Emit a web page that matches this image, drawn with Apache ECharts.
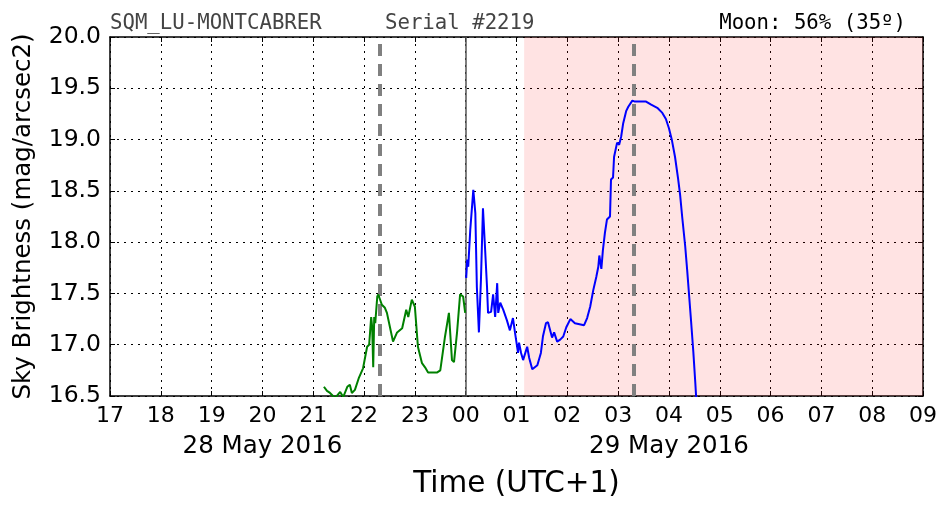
<!DOCTYPE html>
<html>
<head>
<meta charset="utf-8">
<script src="https://cdn.jsdelivr.net/npm/echarts@6/dist/echarts.min.js"></script>
<style>html,body{margin:0;padding:0;background:#fff}#c{width:952px;height:512px}</style>
</head>
<body>
<div id="c"></div>
<script>
// Time in hours on a continuous clock (24+ = next day), local UTC+1
const hourTicks = [17,18,19,20,21,22,23,24,25,26,27,28,29,30,31,32,33];
const dateLabels = {20: '28 May 2016', 28: '29 May 2016'};
const yTicks = [16.5,17.0,17.5,18.0,18.5,19.0,19.5,20.0];

const greenTime = [21.21,21.27,21.33,21.43,21.53,21.59,21.67,21.72,21.76,21.82,21.90,21.98,22.06,22.10,22.14,22.16,22.18,22.20,22.22,22.26,22.28,22.35,22.41,22.45,22.51,22.57,22.65,22.75,22.83,22.87,22.94,23.00,23.06,23.14,23.20,23.26,23.44,23.50,23.59,23.67,23.73,23.77,23.83,23.89,23.95,23.99];
const greenSky  = [16.59,16.55,16.53,16.48,16.54,16.49,16.59,16.61,16.53,16.56,16.68,16.77,16.98,17.00,17.27,17.17,16.78,17.27,17.21,17.47,17.49,17.39,17.36,17.31,17.17,17.03,17.12,17.16,17.34,17.27,17.44,17.37,16.98,16.82,16.78,16.73,16.73,16.75,17.07,17.31,16.85,16.83,17.12,17.49,17.47,17.31];

const blueTime = [24.01,24.03,24.05,24.09,24.15,24.19,24.22,24.26,24.30,24.34,24.38,24.42,24.44,24.50,24.54,24.58,24.62,24.64,24.68,24.74,24.81,24.87,24.93,24.97,25.03,25.05,25.09,25.13,25.21,25.25,25.31,25.41,25.48,25.52,25.58,25.62,25.70,25.74,25.80,25.86,25.92,25.98,26.06,26.15,26.33,26.39,26.45,26.51,26.57,26.61,26.63,26.67,26.70,26.74,26.78,26.84,26.86,26.90,26.92,26.98,27.02,27.06,27.10,27.16,27.20,27.28,27.33,27.55,27.65,27.77,27.87,27.94,28.00,28.06,28.12,28.18,28.22,28.26,28.32,28.36,28.40,28.44,28.48,28.52,28.54];
const blueSky  = [17.65,17.83,17.76,18.12,18.51,18.28,17.56,17.12,17.63,18.33,17.95,17.56,17.31,17.32,17.49,17.27,17.60,17.31,17.41,17.34,17.24,17.14,17.26,17.12,16.92,17.02,16.92,16.85,16.98,16.87,16.76,16.80,16.92,17.08,17.21,17.22,17.07,17.12,17.03,17.05,17.08,17.17,17.25,17.21,17.19,17.26,17.37,17.53,17.66,17.76,17.87,17.74,17.92,18.09,18.22,18.25,18.61,18.63,18.83,18.97,18.95,19.03,19.16,19.28,19.32,19.38,19.37,19.37,19.34,19.31,19.26,19.20,19.11,18.99,18.83,18.62,18.46,18.25,17.96,17.72,17.46,17.20,16.93,16.62,16.45];

const nightStart = 25.15, nightEnd = 33;     // shaded region
const moonEvents = [22.31, 27.30];          // dashed markers
const midnight = 24.0;

const chart = echarts.init(document.getElementById('c'), null, {renderer: 'canvas'});
const FONT = 'DejaVu Sans';
const pad = v => String(((v % 24) + 24) % 24).padStart(2, '0');

chart.setOption({
  animation: false,
  backgroundColor: '#fff',
  grid: {left: 110, right: 29, top: 37, bottom: 116, containLabel: false},
  xAxis: [
    {
      type: 'value', min: hourTicks[0], max: hourTicks[hourTicks.length-1], interval: 1,
      position: 'bottom',
      axisLine: {show: true, onZero: false, lineStyle: {color: '#000', width: 1.5}},
      axisTick: {show: true, inside: true, length: 5, lineStyle: {color: '#000', width: 1}},
      axisLabel: {formatter: v => pad(v), fontFamily: FONT, fontSize: 22, color: '#000', margin: 9},
      splitLine: {show: true, lineStyle: {color: '#000', type: [2, 5], width: 1}},
      name: 'Time (UTC+1)', nameLocation: 'middle', nameGap: 73,
      nameTextStyle: {fontFamily: FONT, fontSize: 29.5, color: '#000'}
    },
    {
      type: 'value', min: hourTicks[0], max: hourTicks[hourTicks.length-1], interval: 1,
      position: 'bottom', offset: 29,
      axisLine: {show: false}, axisTick: {show: false}, splitLine: {show: false},
      axisLabel: {formatter: v => dateLabels[v] || '', fontFamily: FONT, fontSize: 24.5, color: '#000', margin: 9, showMinLabel: true, showMaxLabel: true}
    },
    {
      type: 'value', min: hourTicks[0], max: hourTicks[hourTicks.length-1], interval: 1,
      position: 'top',
      axisLine: {show: true, onZero: false, lineStyle: {color: '#000', width: 1.5}},
      axisTick: {show: true, inside: true, length: 5, lineStyle: {color: '#000'}},
      axisLabel: {show: false}, splitLine: {show: false}
    }
  ],
  yAxis: [
    {
      type: 'value', min: yTicks[0], max: yTicks[yTicks.length-1], interval: 0.5,
      axisLine: {show: true, onZero: false, lineStyle: {color: '#000', width: 1.5}},
      axisTick: {show: true, inside: true, length: 5, lineStyle: {color: '#000'}},
      axisLabel: {formatter: v => v.toFixed(1), fontFamily: FONT, fontSize: 23.5, color: '#000', margin: 9},
      splitLine: {show: true, lineStyle: {color: '#000', type: [2, 5], width: 1}},
      name: 'Sky Brightness (mag/arcsec2)', nameLocation: 'middle', nameGap: 74, nameRotate: 90,
      nameTextStyle: {fontFamily: FONT, fontSize: 24.5, color: '#000'}
    },
    {
      type: 'value', min: yTicks[0], max: yTicks[yTicks.length-1], interval: 0.5, position: 'right',
      axisLine: {show: true, onZero: false, lineStyle: {color: '#000', width: 1.5}},
      axisTick: {show: true, inside: true, length: 5, lineStyle: {color: '#000'}},
      axisLabel: {show: false}, splitLine: {show: false}
    }
  ],
  series: [
    {
      type: 'line', name: 'before', xAxisIndex: 0, yAxisIndex: 0,
      data: greenTime.map((t, i) => [t, greenSky[i]]),
      showSymbol: false, clip: true, z: 5,
      lineStyle: {color: '#008000', width: 2},
      markArea: {
        silent: true, z: 1,
        itemStyle: {color: 'rgba(255,0,0,0.11)'},
        data: [[{xAxis: nightStart}, {xAxis: nightEnd}]]
      }
    },
    {
      type: 'line', name: 'after', xAxisIndex: 0, yAxisIndex: 0,
      data: blueTime.map((t, i) => [t, blueSky[i]]),
      showSymbol: false, clip: true, z: 5,
      lineStyle: {color: '#0000ff', width: 2},
      markLine: {
        silent: true, symbol: 'none', label: {show: false},
        data: [
          {xAxis: moonEvents[0], lineStyle: {color: '#808080', width: 4, type: [12, 8]}},
          {xAxis: moonEvents[1], lineStyle: {color: '#808080', width: 4, type: [12, 8]}},
          {xAxis: midnight, lineStyle: {color: '#555', width: 1.5, type: 'solid'}}
        ]
      }
    }
  ],
  graphic: [
    {type: 'text', left: 110, top: 13, style: {text: 'SQM_LU-MONTCABRER', font: '20.7px "DejaVu Sans Mono"', fill: '#444'}},
    {type: 'text', left: 385, top: 13, style: {text: 'Serial #2219', font: '20.7px "DejaVu Sans Mono"', fill: '#444'}},
    {type: 'text', right: 46, top: 13, style: {text: 'Moon: 56% (35º)', font: '20.7px "DejaVu Sans Mono"', fill: '#000'}}
  ]
});
</script>
</body>
</html>
